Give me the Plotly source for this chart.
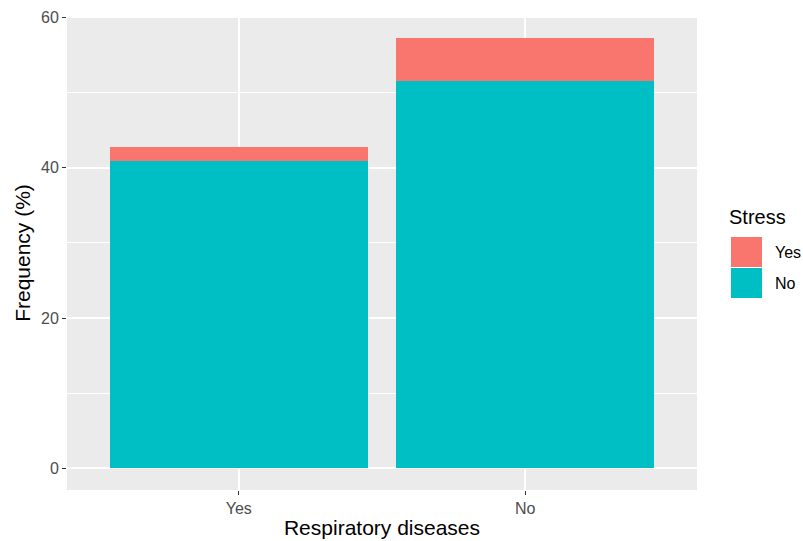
import plotly.graph_objects as go

categories = ["Yes", "No"]
stress_no = [40.9, 51.5]
stress_yes = [1.9, 5.8]
y_ticks = [0, 20, 40, 60]
colors = {"Yes": "#F8766D", "No": "#00BFC4"}

fig = go.Figure()
fig.add_trace(go.Bar(x=categories, y=stress_no, name="No", marker=dict(color=colors["No"], line=dict(width=0)),
                     width=0.9, showlegend=False))
fig.add_trace(go.Bar(x=categories, y=stress_yes, name="Yes", marker=dict(color=colors["Yes"], line=dict(width=0)),
                     width=0.9, showlegend=False))

total_max = max(a + b for a, b in zip(stress_no, stress_yes))
fig.update_layout(
    barmode="stack",
    width=803, height=541,
    margin=dict(l=67, r=106, t=16, b=51, autoexpand=False),
    paper_bgcolor="white",
    plot_bgcolor="#EBEBEB",
    font=dict(family="Liberation Sans, Arial, sans-serif"),
    xaxis=dict(
        type="category", range=[-0.6, 1.6], automargin=False,
        showgrid=True, gridcolor="white", gridwidth=1.5,
        ticks="outside", ticklen=4, tickcolor="#333333", tickwidth=1.2,
        tickfont=dict(size=16, color="#4D4D4D"),
        title=dict(text="Respiratory diseases", font=dict(size=21, color="black"), standoff=4),
        zeroline=False, showline=False,
    ),
    yaxis=dict(
        range=[-0.05 * total_max, total_max * 1.05], automargin=False,
        tickvals=y_ticks,
        showgrid=True, gridcolor="white", gridwidth=1.5,
        minor=dict(tickvals=[10, 30, 50], showgrid=True, gridcolor="white", gridwidth=0.7, ticks=""),
        ticks="outside", ticklen=4, tickcolor="#333333", tickwidth=1.2,
        tickfont=dict(size=16, color="#4D4D4D"),
        title=dict(text="Frequency (%)", font=dict(size=21, color="black"), standoff=4),
        zeroline=False, showline=False,
    ),
)

# ggplot-style legend (panel: x 67..697, y 16..490 in pixels)
def py(pix):
    return (490 - pix) / 474.0

def px(pix):
    return (pix - 67) / 630.0

legend_items = [("Yes", colors["Yes"]), ("No", colors["No"])]
fig.add_annotation(xref="paper", yref="paper", x=px(727), y=py(217), text="Stress", showarrow=False,
                   xanchor="left", yanchor="middle", font=dict(size=20, color="black"))
key_tops = [237, 268]
for (lab, col), top in zip(legend_items, key_tops):
    fig.add_shape(type="rect", xref="paper", yref="paper", x0=px(731), x1=px(762),
                  y0=py(top + 30), y1=py(top), fillcolor=col, line=dict(width=0))
    fig.add_annotation(xref="paper", yref="paper", x=px(773), y=py(top + 15), text=lab, showarrow=False,
                       xanchor="left", yanchor="middle", font=dict(size=16, color="black"))

fig.write_html(
    "out.html",
    config={"displayModeBar": False},
    post_script="document.body.style.margin='0';document.body.style.overflow='hidden';",
)
